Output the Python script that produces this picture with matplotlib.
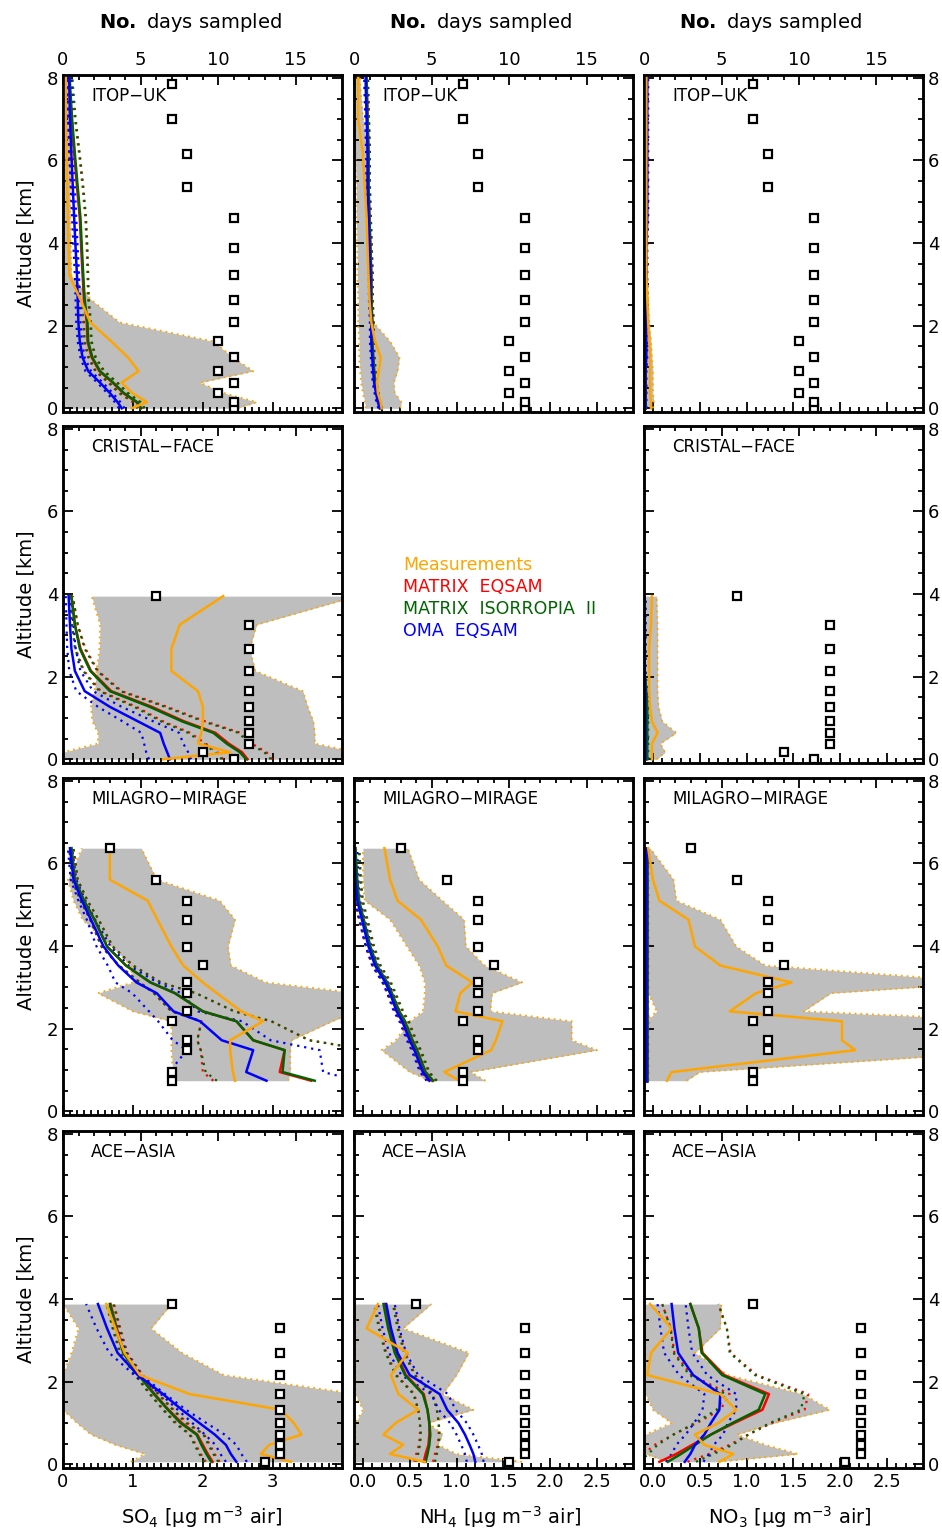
import numpy as np
import matplotlib.pyplot as plt
from matplotlib.ticker import MultipleLocator, FormatStrFormatter

plt.rcParams['font.family'] = ['DejaVu Sans']
plt.rcParams['mathtext.fontset'] = 'dejavusans'

ORANGE = '#FFA500'
RED = '#FF0000'
GREEN = '#006400'
BLUE = '#0000FF'
GREY = '#BEBEBE'

# ---------------- ITOP-UK ----------------
itop_alt = [0.0, 0.15, 0.37, 0.62, 0.90, 1.23, 1.62, 2.08, 2.63, 3.22, 3.88, 4.60, 5.37, 6.16, 7.01, 7.85, 8.3]
itop_days = [11, 11, 10, 11, 10, 11, 10, 11, 11, 11, 11, 11, 8, 8, 7, 7, np.nan]

itop_so4_meas = [0.98, 1.2, 0.99, 0.84, 1.08, 0.93, 0.69, 0.39, 0.25, 0.09, 0.08, 0.07, 0.06, 0.05, 0.04, 0.04, 0.04]
itop_so4_lo = [0.0, 0.0, 0.0, 0.0, 0.0, 0.0, 0.0, 0.0, 0.02, 0.02, 0.02, 0.02, 0.02, 0.02, 0.02, 0.02, 0.02]
itop_so4_hi = [2.5, 2.77, 2.3, 1.96, 2.72, 2.43, 2.15, 0.81, 0.4, 0.12, 0.11, 0.1, 0.1, 0.1, 0.1, 0.1, 0.1]
itop_so4_eq = [1.11, 1.05, 0.86, 0.71, 0.52, 0.41, 0.35, 0.34, 0.30, 0.28, 0.26, 0.24, 0.20, 0.16, 0.12, 0.09, 0.08]
itop_so4_is = [1.12, 1.06, 0.87, 0.72, 0.53, 0.42, 0.36, 0.35, 0.31, 0.29, 0.27, 0.25, 0.21, 0.17, 0.13, 0.10, 0.09]
itop_so4_oma = [0.84, 0.78, 0.67, 0.53, 0.36, 0.28, 0.24, 0.22, 0.21, 0.20, 0.18, 0.16, 0.14, 0.12, 0.10, 0.09, 0.08]
itop_so4_sdm = [0.05, 0.05, 0.06, 0.06, 0.06, 0.05, 0.05, 0.05, 0.06, 0.07, 0.08, 0.08, 0.08, 0.07, 0.05, 0.04, 0.04]
itop_so4_sdo = [0.04, 0.04, 0.04, 0.04, 0.04, 0.03, 0.03, 0.03, 0.03, 0.03, 0.03, 0.03, 0.03, 0.03, 0.03, 0.03, 0.03]

itop_nh4_meas = [0.2, 0.19, 0.16, 0.15, 0.17, 0.19, 0.13, 0.09, 0.07, 0.06, 0.05, 0.04, 0.02, 0.0, -0.05, -0.05, -0.05]
itop_nh4_lo = [0.03, 0.02, 0.0, -0.02, -0.03, -0.04, -0.04, -0.05, -0.05, -0.06, -0.06, -0.07, -0.07, -0.08, -0.08, -0.08, -0.08]
itop_nh4_hi = [0.4, 0.41, 0.34, 0.33, 0.37, 0.39, 0.29, 0.11, 0.1, 0.08, 0.07, 0.06, 0.05, 0.05, 0.0, -0.03, -0.03]
itop_nh4_eq = [0.19, 0.17, 0.15, 0.13, 0.12, 0.11, 0.1, 0.1, 0.09, 0.09, 0.08, 0.07, 0.06, 0.06, 0.05, 0.04, 0.04]
itop_nh4_is = [0.19, 0.17, 0.15, 0.13, 0.12, 0.11, 0.1, 0.1, 0.09, 0.09, 0.08, 0.07, 0.06, 0.06, 0.05, 0.04, 0.04]
itop_nh4_oma = [0.18, 0.16, 0.14, 0.12, 0.11, 0.1, 0.09, 0.09, 0.08, 0.08, 0.07, 0.06, 0.05, 0.05, 0.04, 0.03, 0.03]
itop_nh4_sdm = 0.015
itop_nh4_sdo = 0.015

itop_no3_meas = [-0.02, -0.02, -0.03, -0.03, -0.03, -0.03, -0.04, -0.05, -0.06, -0.07, -0.07, -0.07, -0.07, -0.07, -0.07, -0.07, -0.07]
itop_no3_lo = [-0.09] * 17
itop_no3_hi = [0.0, 0.01, 0.0, 0.0, 0.0, -0.01, -0.02, -0.04, -0.05, -0.06, -0.06, -0.06, -0.06, -0.06, -0.06, -0.06, -0.06]
itop_no3_eq = [-0.08] * 17
itop_no3_is = [-0.08] * 17
itop_no3_oma = [-0.08, -0.08, -0.08, -0.08, -0.08, -0.07, -0.07, -0.07, -0.07, -0.07, -0.07, -0.06, -0.06, -0.06, -0.06, -0.06, -0.06]
itop_no3_sdm = 0.01
itop_no3_sdo = 0.01

# ---------------- CRISTAL-FACE ----------------
cf_alt = [0.0, 0.17, 0.38, 0.64, 0.92, 1.27, 1.65, 2.14, 2.68, 3.26, 3.95]
cf_days = [11, 9, 12, 12, 12, 12, 12, 12, 12, 12, 6]

cf_so4_meas = [1.43, 2.39, 1.93, 1.98, 2.0, 2.0, 1.93, 1.55, 1.55, 1.67, 2.29]
cf_so4_lo = [0.0, 0.0, 0.5, 0.5, 0.42, 0.40, 0.45, 0.48, 0.52, 0.53, 0.41]
cf_so4_hi = [4.2, 4.2, 3.6, 3.6, 3.58, 3.5, 3.43, 2.75, 2.67, 2.77, 4.2]
cf_so4_eq = [2.64, 2.56, 2.37, 2.18, 1.73, 1.27, 0.69, 0.40, 0.25, 0.17, 0.12]
cf_so4_is = [2.62, 2.53, 2.34, 2.15, 1.70, 1.24, 0.67, 0.39, 0.24, 0.17, 0.12]
cf_so4_oma = [1.53, 1.49, 1.44, 1.39, 1.07, 0.67, 0.31, 0.17, 0.12, 0.1, 0.08]
cf_so4_sdm = [0.35, 0.35, 0.33, 0.36, 0.3, 0.22, 0.15, 0.1, 0.07, 0.04, 0.02]
cf_so4_sdo = [0.3, 0.3, 0.28, 0.27, 0.22, 0.17, 0.12, 0.08, 0.06, 0.05, 0.04]

cf_no3_meas = [-0.01, -0.01, -0.01, 0.05, -0.01, -0.03, -0.04, -0.04, -0.04, -0.02, -0.01]
cf_no3_lo = [-0.085] * 11
cf_no3_hi = [0.04, 0.13, 0.08, 0.25, 0.1, 0.06, 0.05, 0.05, 0.05, 0.05, 0.04]
cf_no3_eq = [-0.07, -0.07, -0.07, -0.07, -0.07, -0.07, -0.08, -0.09, -0.09, -0.09, -0.09]
cf_no3_is = [-0.06, -0.06, -0.06, -0.06, -0.06, -0.06, -0.07, -0.09, -0.09, -0.09, -0.09]
cf_no3_oma = [-0.08, -0.08, -0.08, -0.08, -0.08, -0.08, -0.08, -0.09, -0.09, -0.09, -0.09]
cf_no3_sdm = 0.01
cf_no3_sdo = 0.01

# ---------------- MILAGRO-MIRAGE ----------------
mm_alt = [0.74, 0.95, 1.48, 1.72, 2.18, 2.42, 2.86, 3.12, 3.53, 3.99, 4.64, 5.10, 5.61, 6.37]
mm_days = [7, 7, 8, 8, 7, 8, 8, 8, 9, 8, 8, 8, 6, 3]

mm_so4_meas = [2.46, 2.43, 2.39, 2.39, 2.86, 2.55, 2.2, 2.0, 1.72, 1.55, 1.35, 1.21, 0.67, 0.67]
mm_so4_lo = [1.57, 1.57, 1.55, 1.55, 1.55, 1.0, 0.5, 1.0, 0.97, 0.7, 0.28, 0.15, 0.07, 0.27]
mm_so4_hi = [3.22, 3.25, 3.25, 3.27, 3.85, 4.2, 4.2, 2.9, 2.4, 2.36, 2.46, 2.24, 1.34, 1.12]
mm_so4_eq = [3.55, 3.1, 3.17, 2.72, 2.48, 2.0, 1.6, 1.25, 0.9, 0.63, 0.45, 0.3, 0.17, 0.12]
mm_so4_is = [3.6, 3.14, 3.17, 2.72, 2.48, 2.0, 1.6, 1.25, 0.9, 0.63, 0.45, 0.3, 0.17, 0.12]
mm_so4_oma = [2.91, 2.62, 2.72, 2.27, 1.96, 1.58, 1.34, 1.05, 0.79, 0.58, 0.4, 0.27, 0.15, 0.1]
mm_so4_sdm = [1.4, 1.1, 1.2, 0.8, 0.5, 0.45, 0.3, 0.15, 0.1, 0.08, 0.06, 0.05, 0.04, 0.03]
mm_so4_sdo = [1.3, 1.1, 0.95, 0.7, 0.6, 0.35, 0.35, 0.3, 0.15, 0.1, 0.06, 0.05, 0.04, 0.03]

mm_nh4_meas = [1.03, 0.87, 1.37, 1.42, 1.49, 0.99, 1.04, 1.17, 0.89, 0.8, 0.62, 0.37, 0.29, 0.23]
mm_nh4_lo = [0.72, 0.5, 0.2, 0.35, 0.5, 0.64, 0.66, 0.66, 0.6, 0.47, 0.29, 0.02, 0.0, 0.0]
mm_nh4_hi = [1.31, 1.15, 2.5, 2.23, 2.23, 1.36, 1.38, 1.7, 1.3, 1.1, 1.08, 0.85, 0.6, 0.48]
mm_nh4_eq = [0.74, 0.66, 0.57, 0.52, 0.44, 0.38, 0.3, 0.25, 0.14, 0.07, 0.0, -0.05, -0.07, -0.08]
mm_nh4_is = [0.75, 0.67, 0.58, 0.53, 0.45, 0.39, 0.31, 0.26, 0.15, 0.08, 0.01, -0.04, -0.06, -0.08]
mm_nh4_oma = [0.71, 0.64, 0.55, 0.5, 0.42, 0.36, 0.29, 0.24, 0.13, 0.06, -0.01, -0.06, -0.08, -0.09]
mm_nh4_sdm = 0.04
mm_nh4_sdo = 0.03

mm_no3_meas = [0.15, 0.2, 2.16, 2.02, 2.02, 0.82, 1.1, 1.48, 0.72, 0.45, 0.38, 0.07, 0.0, -0.05]
mm_no3_lo = [-0.07, -0.07, -0.07, -0.07, -0.07, 0.04, -0.05, -0.07, -0.07, -0.07, -0.07, -0.07, -0.07, -0.07]
mm_no3_hi = [0.36, 0.5, 4.0, 4.0, 4.0, 1.61, 1.9, 3.6, 1.2, 0.89, 0.72, 0.25, 0.22, -0.03]
mm_no3_eq = [-0.06] * 14
mm_no3_is = [-0.06] * 14
mm_no3_oma = [-0.07] * 14
mm_no3_sdm = 0.01
mm_no3_sdo = 0.01

# ---------------- ACE-ASIA ----------------
ace_alt = [0.06, 0.25, 0.47, 0.72, 1.0, 1.32, 1.70, 2.16, 2.70, 3.29, 3.88]
ace_days = [13, 14, 14, 14, 14, 14, 14, 14, 14, 14, 7]
ace_days_nh4 = [10, 11, 11, 11, 11, 11, 11, 11, 11, 11, 4]

ace_so4_meas = [3.26, 2.83, 2.95, 3.41, 3.3, 3.12, 1.81, 1.1, 0.88, 0.75, 0.62]
ace_so4_lo = [0.97, 1.17, 0.75, 0.4, 0.2, 0.0, 0.0, 0.0, 0.12, 0.22, 0.0]
ace_so4_hi = [4.2, 4.2, 4.2, 4.2, 4.2, 4.2, 4.2, 2.3, 1.7, 1.26, 1.55]
ace_so4_eq = [2.14, 2.07, 2.0, 1.92, 1.7, 1.51, 1.31, 1.09, 0.87, 0.77, 0.68]
ace_so4_is = [2.12, 2.05, 1.98, 1.91, 1.68, 1.5, 1.3, 1.08, 0.86, 0.76, 0.67]
ace_so4_oma = [2.48, 2.4, 2.33, 2.17, 1.95, 1.7, 1.43, 1.07, 0.78, 0.63, 0.5]
ace_so4_sdm = [0.1, 0.1, 0.1, 0.1, 0.08, 0.07, 0.06, 0.05, 0.05, 0.05, 0.05]
ace_so4_sdo = [0.15, 0.15, 0.15, 0.14, 0.1, 0.06, 0.03, 0.05, 0.12, 0.15, 0.17]

ace_nh4_meas = [0.66, 0.29, 0.43, 0.22, 0.35, 0.59, 0.38, 0.3, 0.48, 0.04, 0.16]
ace_nh4_lo = [-0.08, -0.08, -0.08, -0.08, -0.08, 0.0, -0.08, -0.08, -0.08, -0.08, -0.08]
ace_nh4_hi = [1.7, 1.0, 0.8, 0.85, 0.7, 1.18, 0.85, 1.0, 1.13, 0.43, 0.73]
ace_nh4_eq = [0.65, 0.67, 0.7, 0.71, 0.71, 0.69, 0.65, 0.46, 0.35, 0.28, 0.23]
ace_nh4_is = [0.67, 0.69, 0.71, 0.72, 0.71, 0.69, 0.64, 0.45, 0.34, 0.27, 0.22]
ace_nh4_oma = [1.2, 1.18, 1.14, 1.09, 1.02, 0.9, 0.82, 0.5, 0.37, 0.3, 0.25]
ace_nh4_sdm = 0.1
ace_nh4_sdo = 0.09

ace_no3_meas = [0.71, 0.86, 0.55, 0.45, 0.7, 0.89, 0.72, -0.06, -0.02, 0.2, -0.03]
ace_no3_lo = [0.15, -0.08, -0.08, -0.08, 0.2, 0.0, -0.08, -0.08, -0.08, -0.08, -0.08]
ace_no3_hi = [0.7, 1.55, 1.2, 0.9, 1.3, 1.89, 1.6, 0.8, 0.45, 0.72, 0.73]
ace_no3_eq = [0.07, 0.25, 0.42, 0.62, 0.87, 1.17, 1.24, 0.76, 0.53, 0.49, 0.4]
ace_no3_is = [0.16, 0.3, 0.45, 0.62, 0.85, 1.13, 1.2, 0.74, 0.52, 0.49, 0.4]
ace_no3_oma = [0.34, 0.4, 0.45, 0.55, 0.62, 0.71, 0.72, 0.43, 0.27, 0.23, 0.2]
ace_no3_sdm = [0.3, 0.35, 0.4, 0.4, 0.4, 0.45, 0.42, 0.35, 0.3, 0.3, 0.3]
ace_no3_sdo = [0.2, 0.2, 0.2, 0.2, 0.18, 0.18, 0.17, 0.15, 0.15, 0.15, 0.15]

W, H = 942, 1529
col_left = [63, 354, 644]
col_w = 279
row_top = [75, 426, 778, 1131]
row_h = 337
xlims = [(0, 3.99), (-0.095, 2.885), (-0.095, 2.885)]
DOT = (0, (1, 2.2))
TICK_FS = 13


def draw(ax, alt, days, meas, lo, hi, eq, iso, oma, sdm, sdo, name, row, col):
    alt = np.asarray(alt)
    ax.fill_betweenx(alt, lo, hi, color=GREY, lw=0, zorder=1)
    ax.plot(lo, alt, color=ORANGE, lw=1.3, ls=DOT, zorder=2)
    ax.plot(hi, alt, color=ORANGE, lw=1.3, ls=DOT, zorder=2)
    for line, sd, c in ((eq, sdm, RED), (iso, sdm, GREEN), (oma, sdo, BLUE)):
        line = np.asarray(line, dtype=float)
        ax.plot(line - np.asarray(sd), alt, color=c, lw=1.6, ls=DOT, zorder=3)
        ax.plot(line + np.asarray(sd), alt, color=c, lw=1.6, ls=DOT, zorder=3)
    ax.plot(eq, alt, color=RED, lw=1.8, zorder=4)
    ax.plot(iso, alt, color=GREEN, lw=1.8, zorder=4)
    ax.plot(oma, alt, color=BLUE, lw=1.8, zorder=4)
    ax.plot(meas, alt, color=ORANGE, lw=1.8, zorder=5)
    ax.text(0.1, 0.938, name, transform=ax.transAxes, fontsize=12, va='center', ha='left', zorder=6)

    top = ax.twiny()
    top.set_xlim(0, 18)
    top.plot(days, alt, ls='none', marker='s', ms=5.5, mfc='white', mec='black', mew=1.6, zorder=7)
    top.xaxis.set_major_locator(MultipleLocator(5))
    top.xaxis.set_minor_locator(MultipleLocator(1))
    top.tick_params(axis='x', which='both', direction='in', width=1.3, labelsize=TICK_FS,
                    labeltop=(row == 0), pad=4)
    top.tick_params(axis='x', which='major', length=7)
    top.tick_params(axis='x', which='minor', length=3.5)
    for s in top.spines.values():
        s.set_linewidth(1.8)
    return top


fig = plt.figure(figsize=(W / 100, H / 100), dpi=100)

panels = [
    (0, 0, itop_alt, itop_days, itop_so4_meas, itop_so4_lo, itop_so4_hi, itop_so4_eq, itop_so4_is, itop_so4_oma, itop_so4_sdm, itop_so4_sdo, 'ITOP\u2212UK'),
    (0, 1, itop_alt, itop_days, itop_nh4_meas, itop_nh4_lo, itop_nh4_hi, itop_nh4_eq, itop_nh4_is, itop_nh4_oma, itop_nh4_sdm, itop_nh4_sdo, 'ITOP\u2212UK'),
    (0, 2, itop_alt, itop_days, itop_no3_meas, itop_no3_lo, itop_no3_hi, itop_no3_eq, itop_no3_is, itop_no3_oma, itop_no3_sdm, itop_no3_sdo, 'ITOP\u2212UK'),
    (1, 0, cf_alt, cf_days, cf_so4_meas, cf_so4_lo, cf_so4_hi, cf_so4_eq, cf_so4_is, cf_so4_oma, cf_so4_sdm, cf_so4_sdo, 'CRISTAL\u2212FACE'),
    (1, 2, cf_alt, cf_days, cf_no3_meas, cf_no3_lo, cf_no3_hi, cf_no3_eq, cf_no3_is, cf_no3_oma, cf_no3_sdm, cf_no3_sdo, 'CRISTAL\u2212FACE'),
    (2, 0, mm_alt, mm_days, mm_so4_meas, mm_so4_lo, mm_so4_hi, mm_so4_eq, mm_so4_is, mm_so4_oma, mm_so4_sdm, mm_so4_sdo, 'MILAGRO\u2212MIRAGE'),
    (2, 1, mm_alt, mm_days, mm_nh4_meas, mm_nh4_lo, mm_nh4_hi, mm_nh4_eq, mm_nh4_is, mm_nh4_oma, mm_nh4_sdm, mm_nh4_sdo, 'MILAGRO\u2212MIRAGE'),
    (2, 2, mm_alt, mm_days, mm_no3_meas, mm_no3_lo, mm_no3_hi, mm_no3_eq, mm_no3_is, mm_no3_oma, mm_no3_sdm, mm_no3_sdo, 'MILAGRO\u2212MIRAGE'),
    (3, 0, ace_alt, ace_days, ace_so4_meas, ace_so4_lo, ace_so4_hi, ace_so4_eq, ace_so4_is, ace_so4_oma, ace_so4_sdm, ace_so4_sdo, 'ACE\u2212ASIA'),
    (3, 1, ace_alt, ace_days_nh4, ace_nh4_meas, ace_nh4_lo, ace_nh4_hi, ace_nh4_eq, ace_nh4_is, ace_nh4_oma, ace_nh4_sdm, ace_nh4_sdo, 'ACE\u2212ASIA'),
    (3, 2, ace_alt, ace_days, ace_no3_meas, ace_no3_lo, ace_no3_hi, ace_no3_eq, ace_no3_is, ace_no3_oma, ace_no3_sdm, ace_no3_sdo, 'ACE\u2212ASIA'),
]

for row, col, *data in panels:
    left = col_left[col] / W
    bottom = 1 - (row_top[row] + row_h) / H
    ax = fig.add_axes([left, bottom, col_w / W, row_h / H])
    ax.set_xlim(*xlims[col])
    ax.set_ylim(-0.09, 8.07)
    ax.yaxis.set_major_locator(MultipleLocator(2))
    ax.yaxis.set_minor_locator(MultipleLocator(0.5))
    if col == 0:
        ax.xaxis.set_major_locator(MultipleLocator(1))
        ax.xaxis.set_major_formatter(FormatStrFormatter('%d'))
    else:
        ax.xaxis.set_major_locator(MultipleLocator(0.5))
        ax.xaxis.set_major_formatter(FormatStrFormatter('%.1f'))
    ax.xaxis.set_minor_locator(MultipleLocator(0.1))
    ax.tick_params(which='both', direction='in', width=1.3, labelsize=TICK_FS,
                   left=True, right=True, top=False, bottom=True,
                   labelleft=(col == 0), labelright=(col == 2), labelbottom=(row == 3))
    ax.tick_params(which='major', length=7)
    ax.tick_params(which='minor', length=3.5)
    for s in ax.spines.values():
        s.set_linewidth(1.8)
    draw(ax, *data, row=row, col=col)
    if col == 0:
        ax.set_ylabel('Altitude [km]', fontsize=14, labelpad=8)

for x in [190, 480, 770]:
    fig.text(x / W, 1 - 22 / H, r'$\mathbf{No.}$ days sampled', fontsize=14, ha='center', va='center')

xlabels = [r'SO$_4$ [μg m$^{-3}$ air]', r'NH$_4$ [μg m$^{-3}$ air]', r'NO$_3$ [μg m$^{-3}$ air]']
for x, lab in zip([202, 500, 790], xlabels):
    fig.text(x / W, 1 - 1517 / H, lab, fontsize=14, ha='center', va='center')

legend_names = ['Measurements', 'MATRIX  EQSAM', 'MATRIX  ISORROPIA  II', 'OMA  EQSAM']
legend_colors = [ORANGE, RED, GREEN, BLUE]
for i, (t, c) in enumerate(zip(legend_names, legend_colors)):
    fig.text(403 / W, 1 - (565 + 22 * i) / H, t, color=c, fontsize=12.5, ha='left', va='center')

fig.savefig('out.png', dpi=100)
